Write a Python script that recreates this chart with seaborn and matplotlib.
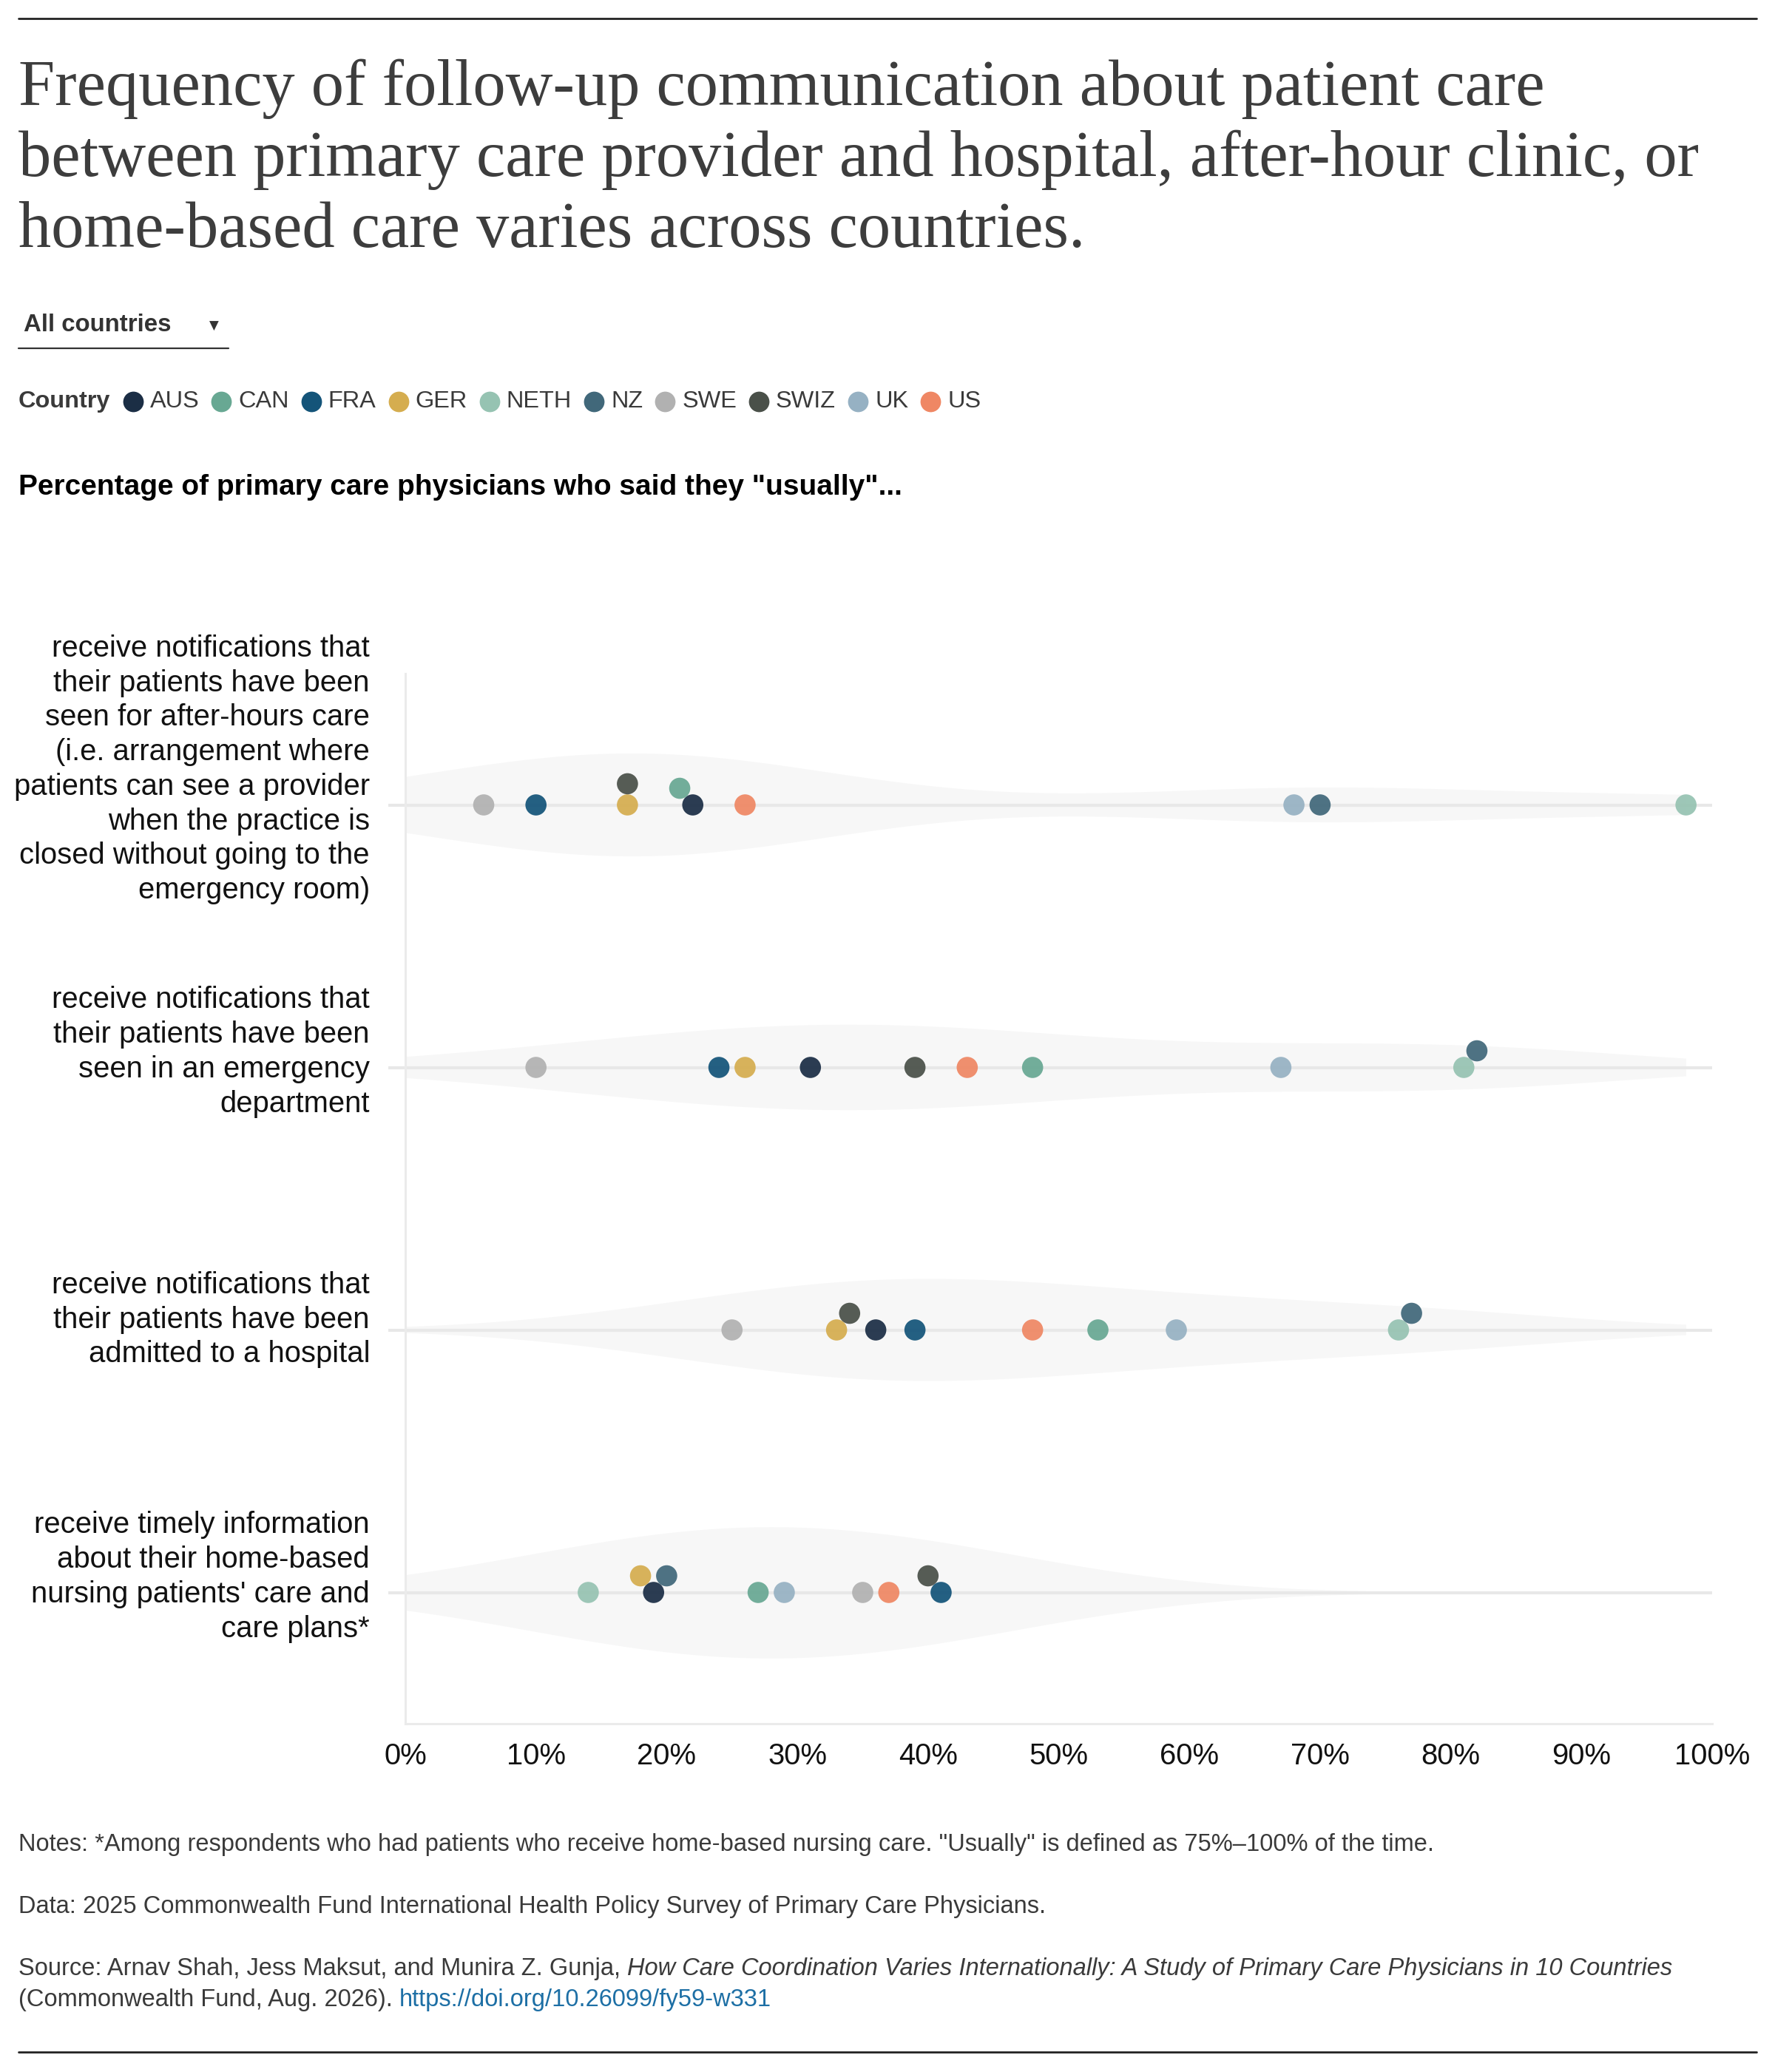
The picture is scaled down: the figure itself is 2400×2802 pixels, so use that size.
import matplotlib
matplotlib.use("Agg")
import numpy as np
import pandas as pd
import matplotlib.pyplot as plt
import seaborn as sns
from matplotlib.patches import Rectangle

# ---------------- data ----------------
countries = ["AUS", "CAN", "FRA", "GER", "NETH", "NZ", "SWE", "SWIZ", "UK", "US"]
country_colors = ["#1b2e45", "#68a893", "#145479", "#d5ad4f", "#96c3b2",
                  "#41687a", "#b1b1b1", "#4a5049", "#96b1c3", "#ef8764"]

measures = [
    "receive notifications that\ntheir patients have been\nseen for after-hours care\n"
    "(i.e. arrangement where\npatients can see a provider\nwhen the practice is\n"
    "closed without going to the\nemergency room)",
    "receive notifications that\ntheir patients have been\nseen in an emergency\ndepartment",
    "receive notifications that\ntheir patients have been\nadmitted to a hospital",
    "receive timely information\nabout their home-based\nnursing patients' care and\ncare plans*",
]

#                 AUS CAN FRA GER NETH NZ SWE SWIZ UK  US
after_hours    = [22, 21, 10, 17, 98, 70,  6, 17, 68, 26]
emergency_dept = [31, 48, 24, 26, 81, 82, 10, 39, 67, 43]
hospital_admit = [36, 53, 39, 33, 76, 77, 25, 34, 59, 48]
home_nursing   = [19, 27, 41, 18, 14, 20, 35, 40, 29, 37]

x_ticks = list(range(0, 101, 10))

# ---------------- style ----------------
sns.set_style("white")
plt.rcParams["font.family"] = ["Liberation Sans", "DejaVu Sans"]

W, H, DPI = 2400, 2802, 200
VIOLIN = "#f7f7f7"
GRID = "#e8e8e8"
TEXT = "#3a3a3a"
KDE_BW = 14.0        # kernel width in percentage points
DOT_PX = 28.6        # marker diameter in pixels

rows = [after_hours, emergency_dept, hospital_admit, home_nursing]
df = pd.DataFrame({
    "row": np.repeat(np.arange(len(rows)), len(countries)),
    "country": countries * len(rows),
    "value": np.concatenate(rows).astype(float),
})


def fixed_bw(kde):
    return KDE_BW / kde.dataset.std(ddof=1)


def stack_up(values, order, px_x, diam):
    """place dots on the baseline, lift the ones that would overlap"""
    placed, lift = [], np.zeros(len(values))
    for i in order:
        x = values[i] * px_x
        cands = [0.0]
        for px, py in placed:
            dx = abs(px - x)
            if dx < diam:
                cands.append(py + np.sqrt(diam ** 2 - dx ** 2))
        for c in sorted(cands):
            if all((px - x) ** 2 + (py - c) ** 2 >= diam ** 2 - 1e-6 for px, py in placed):
                lift[i] = c
                break
        placed.append((x, lift[i]))
    return lift


fig = plt.figure(figsize=(W / DPI, H / DPI), dpi=DPI)
bg = fig.add_axes([0, 0, 1, 1], zorder=0)
bg.set_xlim(0, W)
bg.set_ylim(H, 0)
bg.axis("off")

ax = fig.add_axes([548 / W, 1 - 2331 / H, (2315 - 548) / W, (2331 - 911) / H], zorder=1)
ax.patch.set_alpha(0)

# violins
sns.violinplot(data=df, x="value", y="row", orient="h", native_scale=True,
               color=VIOLIN, saturation=1, inner=None, linewidth=0, cut=3,
               gridsize=400, bw_method=fixed_bw, density_norm="area",
               width=0.5, ax=ax)
clip = Rectangle((0, -1), df["value"].max(), len(rows) + 2, transform=ax.transData)
for coll in ax.collections:
    coll.set_clip_path(clip)
    coll.set_zorder(1)

ax.hlines(np.arange(len(rows)), -1.3, 100, color=GRID, lw=1.5, zorder=2, clip_on=False)

# dots
px_x = W * ax.get_position().width / 100
px_row = H * ax.get_position().height / len(rows)
order = [countries.index(c) for c in
         ["AUS", "FRA", "NETH", "SWE", "UK", "US", "GER", "CAN", "NZ", "SWIZ"]]
ypos = []
for r, vals in enumerate(rows):
    lift = stack_up(vals, order, px_x, DOT_PX)
    ypos.extend(r - lift / px_row)
df["ypos"] = ypos

sns.scatterplot(data=df, x="value", y="ypos", hue="country", hue_order=countries,
                palette=dict(zip(countries, country_colors)), s=106, linewidth=0,
                alpha=0.93, legend=False, zorder=4, ax=ax, clip_on=False)

ax.set_xlim(0, 100)
ax.set_ylim(len(rows) - 0.5, -0.5)
ax.set_xticks(x_ticks)
ax.set_xticklabels([f"{t}%" for t in x_ticks], fontsize=14.4, color="#111111")
ax.set_yticks([])
ax.set_xlabel("")
ax.set_ylabel("")
for s in ["top", "right"]:
    ax.spines[s].set_visible(False)
for s in ["left", "bottom"]:
    ax.spines[s].set_color("#ebebeb")
    ax.spines[s].set_linewidth(1.1)
ax.tick_params(axis="x", length=5, width=1, color="#ebebeb", pad=4)

# row labels
label_nudge = [48, 21, 14, 21]  # px upward
for r, (lab, nudge) in enumerate(zip(measures, label_nudge)):
    ax.annotate(lab, xy=(0, r), xytext=(-48 * 72 / DPI, nudge * 72 / DPI),
                textcoords="offset points", ha="right", va="center",
                fontsize=14.4, color="#111111", linespacing=1.29)

# ---------------- header ----------------
renderer = fig.canvas.get_renderer()


def run_text(x, y, parts, **kw):
    for txt, style in parts:
        t = bg.text(x, y, txt, **kw, **style)
        x += t.get_window_extent(renderer=renderer).width
    return x


bg.plot([25, 2375], [25, 25], color="#222222", lw=1.0)
title_lines = ["Frequency of follow-up communication about patient care",
               "between primary care provider and hospital, after-hour clinic, or",
               "home-based care varies across countries."]
for i, line in enumerate(title_lines):
    bg.text(25, 142 + 96 * i, line, family="Liberation Serif", fontsize=31.8,
            color="#3d3d3d", va="baseline", ha="left")

bg.text(32, 439, "All countries", fontsize=11.9, weight="bold", color="#333333",
        va="center", ha="left")
bg.text(289, 441, "▼", family="DejaVu Sans", fontsize=6, color="#333333",
        va="center", ha="center")
bg.plot([25, 309], [471, 471], color="#333333", lw=0.8)

# legend
ly = 543
t = bg.text(25, ly, "Country", fontsize=11.7, weight="bold", color=TEXT, va="center")
x = 25 + t.get_window_extent(renderer=renderer).width
for c, col in zip(countries, country_colors):
    x += 16
    bg.scatter([x + 14], [ly], s=100, color=col, linewidth=0)
    x += 28 + 9
    t = bg.text(x, ly, c, fontsize=11.7, color=TEXT, va="center")
    x += t.get_window_extent(renderer=renderer).width

bg.text(25, 659, 'Percentage of primary care physicians who said they "usually"...',
        fontsize=14, weight="bold", color="#000000", va="center")

# ---------------- notes ----------------
NOTE = 11.75
bg.text(25, 2495, 'Notes: *Among respondents who had patients who receive home-based nursing '
        'care. "Usually" is defined as 75%\u2013100% of the time.',
        fontsize=NOTE, color=TEXT, va="center")
bg.text(25, 2579, "Data: 2025 Commonwealth Fund International Health Policy Survey of "
        "Primary Care Physicians.", fontsize=NOTE, color=TEXT, va="center")
sp = 9
x = run_text(25, 2663, [("Source: Arnav Shah, Jess Maksut, and Munira Z. Gunja,", {})],
             fontsize=NOTE, color=TEXT, va="center")
run_text(x + sp, 2663, [("How Care Coordination Varies Internationally: A Study of Primary "
                         "Care Physicians in 10 Countries", {"style": "italic"})],
         fontsize=NOTE, color=TEXT, va="center")
x = run_text(25, 2704, [("(Commonwealth Fund, Aug. 2026).", {})],
             fontsize=NOTE, color=TEXT, va="center")
bg.text(x + sp, 2704, "https://doi.org/10.26099/fy59-w331", fontsize=NOTE,
        color="#1d6fa5", va="center")

bg.plot([25, 2375], [2775, 2775], color="#222222", lw=1.0)

fig.savefig("out.png", dpi=DPI)
